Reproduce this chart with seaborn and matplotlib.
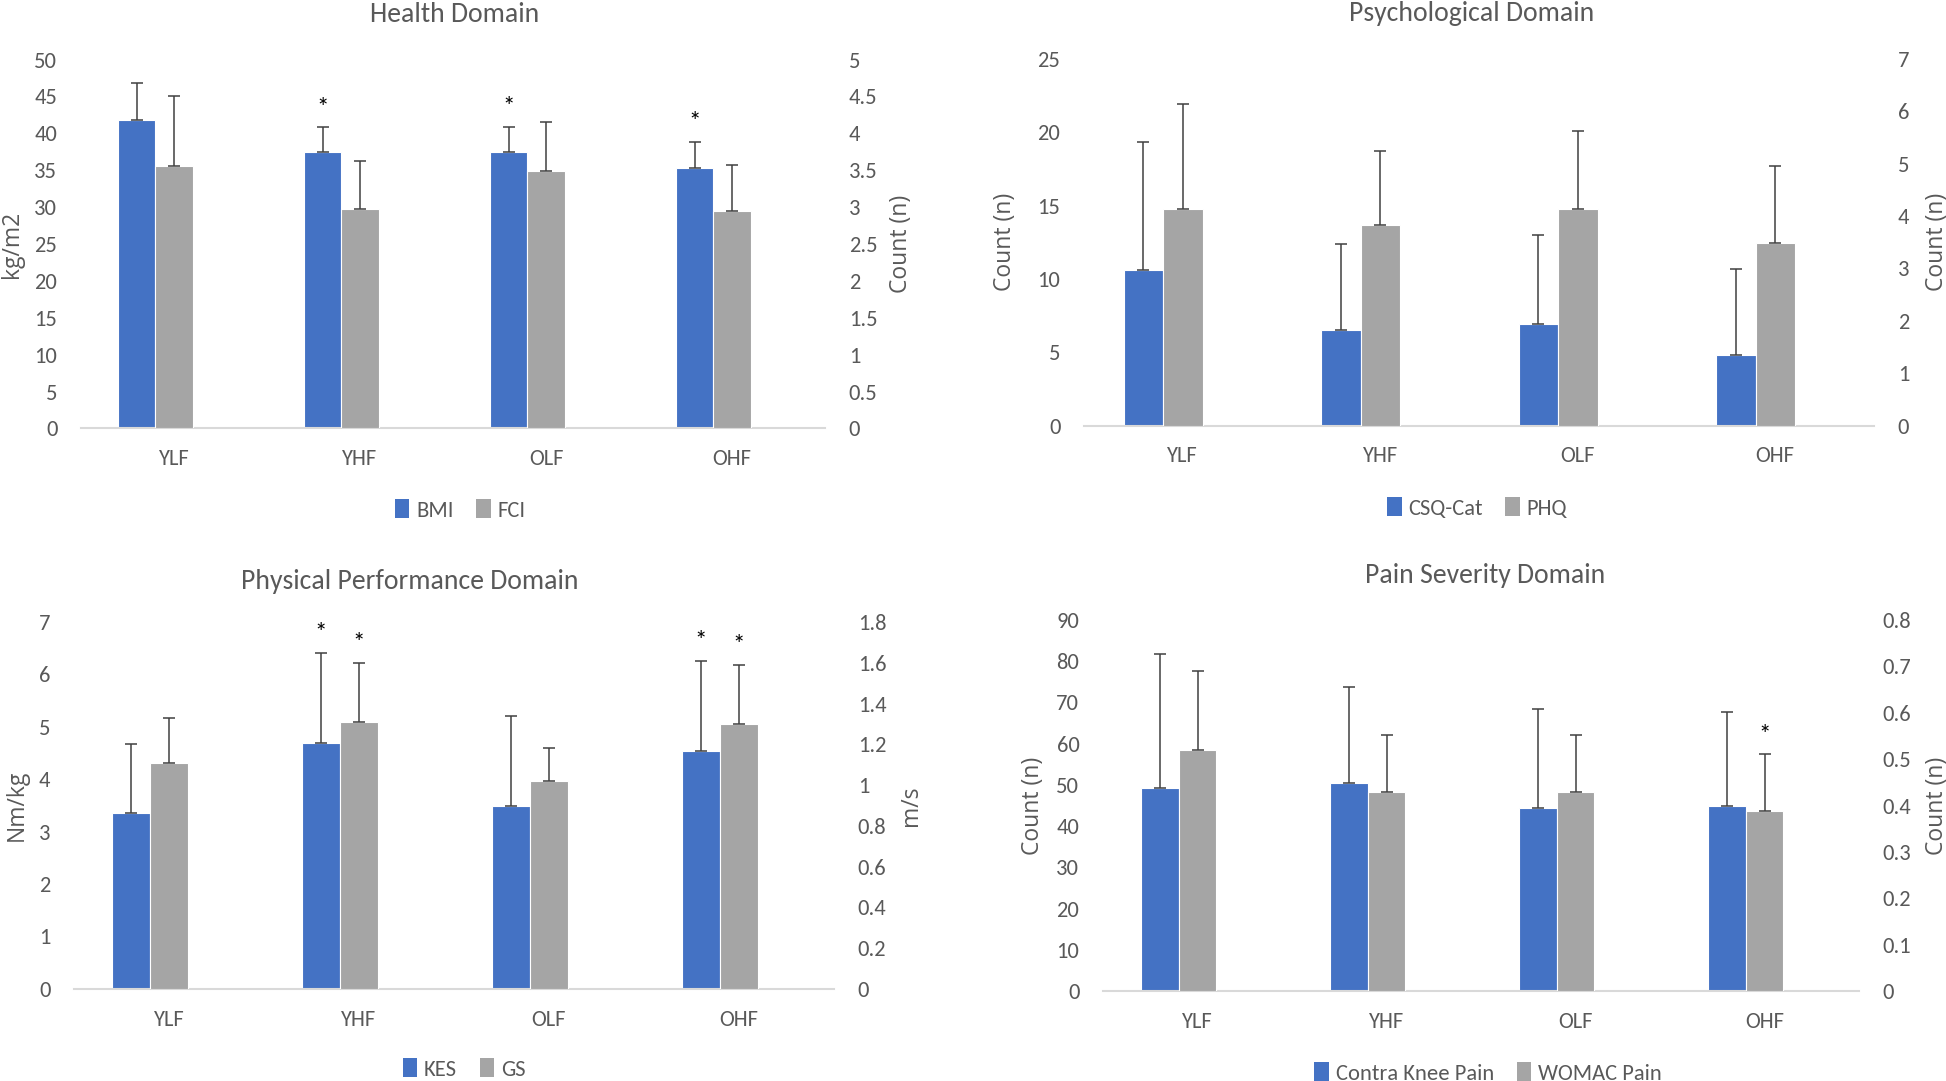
import numpy as np
import pandas as pd
import matplotlib
matplotlib.use("Agg")
import matplotlib.pyplot as plt
from matplotlib.patches import Patch
from matplotlib.ticker import FuncFormatter, MultipleLocator
from matplotlib import font_manager
import seaborn as sns

# ---------------- data ----------------
groups = ["YLF", "YHF", "OLF", "OHF"]

bmi = [41.8, 37.4, 37.5, 35.3]
bmi_sd = [5.0, 3.4, 3.4, 3.5]
fci = [3.55, 2.97, 3.49, 2.94]
fci_sd = [0.95, 0.65, 0.66, 0.63]

csq_cat = [10.6, 6.5, 6.9, 4.8]
csq_cat_sd = [8.7, 5.9, 6.1, 5.9]
phq = [4.13, 3.83, 4.13, 3.49]
phq_sd = [2.0, 1.42, 1.49, 1.46]

kes = [3.36, 4.69, 3.48, 4.53]
kes_sd = [1.31, 1.72, 1.72, 1.73]
gs = [1.108, 1.309, 1.020, 1.299]
gs_sd = [0.221, 0.292, 0.161, 0.292]

contra_pain = [49.2, 50.4, 44.3, 44.8]
contra_pain_sd = [32.6, 23.3, 24.2, 22.9]
womac_pain = [0.52, 0.43, 0.43, 0.389]
womac_pain_sd = [0.171, 0.121, 0.121, 0.121]

# significance markers: (series side, group)
health_stars = [("left", "YHF"), ("left", "OLF"), ("left", "OHF")]
psych_stars = []
phys_stars = [("left", "YHF"), ("right", "YHF"), ("left", "OHF"), ("right", "OHF")]
pain_stars = [("right", "OHF")]

# ---------------- style ----------------
sns.set_style("white")
avail = {f.name for f in font_manager.fontManager.ttflist}
fam = "Carlito" if "Carlito" in avail else ("Lato" if "Lato" in avail else "DejaVu Sans")
lab_fam = "Open Sans" if "Open Sans" in avail else fam
plt.rcParams["font.family"] = [fam, "DejaVu Sans"]

BLUE = "#4472C4"
GREY = "#A5A5A5"
TXT = "#595959"
ERR = "#404040"
AXL = "#D9D9D9"
FS = 16.2
LFS = 16.5

W, H = 1946, 1081
fig = plt.figure(figsize=(W / 100, H / 100), dpi=100)
fig.patch.set_facecolor("white")


def fmt(v, p):
    return f"{round(v, 6):g}"


def px_axes(x0, x1, ytop, ybot):
    return fig.add_axes([x0 / W, 1 - ybot / H, (x1 - x0) / W, (ybot - ytop) / H])


def bar_patches(a):
    for c in a.containers:
        if len(c.patches) > 0:
            return sorted(c.patches, key=lambda p: p.get_x())
    return []


def panel(box, lvals, lsd, lname, lmax, lstep, llabel, rvals, rsd, rname, rmax, rstep, rlabel,
          stars, title, title_xy, legend_xy, lab_lx, lab_rx):
    ax = px_axes(*box)
    ax2 = ax.twinx()
    levels = [lname, rname, "_pad"]
    pal = {lname: BLUE, rname: GREY, "_pad": "white"}
    dl = pd.DataFrame({"group": groups, "value": lvals, "series": lname})
    dr = pd.DataFrame({"group": groups, "value": rvals, "series": rname})
    sns.barplot(data=dl, x="group", y="value", hue="series", hue_order=levels, palette=pal,
                width=0.6, dodge=True, errorbar=None, saturation=1, legend=False,
                edgecolor="white", linewidth=0.8, ax=ax, order=groups)
    sns.barplot(data=dr, x="group", y="value", hue="series", hue_order=levels, palette=pal,
                width=0.6, dodge=True, errorbar=None, saturation=1, legend=False,
                edgecolor="white", linewidth=0.8, ax=ax2, order=groups)
    tops = {}
    for a, vals, sd, side in ((ax, lvals, lsd, "left"), (ax2, rvals, rsd, "right")):
        xs = [p.get_x() + p.get_width() / 2 for p in bar_patches(a)]
        a.errorbar(xs, vals, yerr=[np.zeros(len(sd)), sd], fmt="none", ecolor=ERR,
                   elinewidth=1.1, capsize=4, capthick=1.1, zorder=5)
        for g, x, v, s in zip(groups, xs, vals, sd):
            tops[(side, g)] = (a, x, v + s)
    for key in stars:
        a, x, t = tops[key]
        a.annotate("*", xy=(x, t), xytext=(0, 7), textcoords="offset points",
                   ha="center", va="bottom", fontsize=18, color="black")
    ax.set_xlim(-0.5, len(groups) - 0.5)
    ax.set_ylim(0, lmax)
    ax2.set_ylim(0, rmax)
    ax.yaxis.set_major_locator(MultipleLocator(lstep))
    ax2.yaxis.set_major_locator(MultipleLocator(rstep))
    ax.yaxis.set_major_formatter(FuncFormatter(fmt))
    ax2.yaxis.set_major_formatter(FuncFormatter(fmt))
    for a in (ax, ax2):
        for s in a.spines.values():
            s.set_visible(False)
        a.tick_params(axis="both", length=0, labelsize=FS, labelcolor=TXT)
        a.tick_params(axis="y", pad=17)
        a.set_xlabel("")
    ax.tick_params(axis="x", pad=15)
    ax.spines["bottom"].set_visible(True)
    ax.spines["bottom"].set_color(AXL)
    ax.spines["bottom"].set_linewidth(1.5)
    ax.set_ylabel(llabel, fontsize=LFS, color=TXT, family=lab_fam, va="center")
    ax2.set_ylabel(rlabel, fontsize=LFS, color=TXT, family=lab_fam, rotation=90, va="center")
    ax.yaxis.set_label_coords(lab_lx, 0.5)
    ax2.yaxis.set_label_coords(lab_rx, 0.5)
    fig.text(title_xy[0] / W, 1 - title_xy[1] / H, title, ha="center", va="center",
             fontsize=20, color=TXT)
    handles = [Patch(facecolor=BLUE, edgecolor="none"), Patch(facecolor=GREY, edgecolor="none")]
    fig.legend(handles, [lname, rname], loc="center",
               bbox_to_anchor=(legend_xy[0] / W, 1 - legend_xy[1] / H), ncol=2, frameon=False,
               handlelength=0.65, handleheight=0.9, handletextpad=0.3, columnspacing=1.0,
               fontsize=FS, labelcolor=TXT)
    return ax, ax2


panel((81, 825, 59.5, 428.4), bmi, bmi_sd, "BMI", 50, 5, "kg/m2",
      fci, fci_sd, "FCI", 5, 0.5, "Count (n)", health_stars,
      "Health Domain", (455, 15), (460, 510), -0.093, 1.102)

panel((1084, 1874, 58.8, 425.6), csq_cat, csq_cat_sd, "CSQ-Cat", 25, 5, "Count (n)",
      phq, phq_sd, "PHQ", 7, 1, "Count (n)", psych_stars,
      "Psychological Domain", (1472, 14), (1477, 508), -0.100, 1.080)

panel((74, 834, 622, 988.8), kes, kes_sd, "KES", 7, 1, "Nm/kg",
      gs, gs_sd, "GS", 1.8, 0.2, "m/s", phys_stars,
      "Physical Performance Domain", (410, 581), (464, 1069), -0.075, 1.101)

panel((1103, 1859, 620, 991), contra_pain, contra_pain_sd, "Contra Knee Pain", 90, 10, "Count (n)",
      womac_pain, womac_pain_sd, "WOMAC Pain", 0.8, 0.1, "Count (n)", pain_stars,
      "Pain Severity Domain", (1485, 576), (1488, 1073), -0.093, 1.103)

fig.savefig("out.png", dpi=100, facecolor="white")
